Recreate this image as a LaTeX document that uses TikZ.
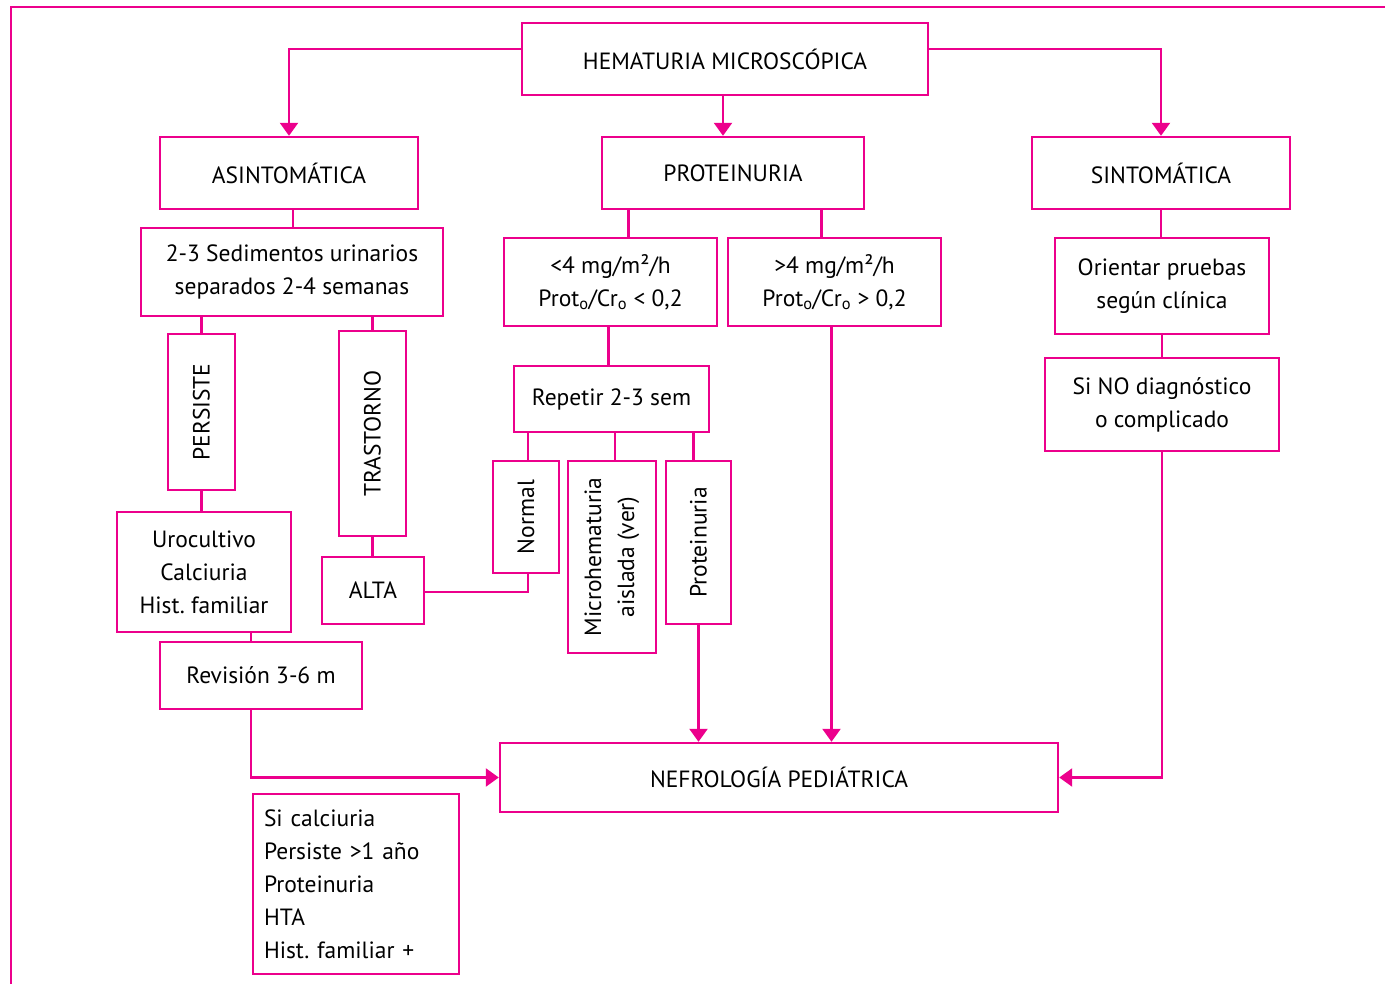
\documentclass[tikz,border=0pt]{standalone}
\usepackage{fontspec}
\setmainfont{PT Sans}
\usetikzlibrary{arrows.meta,calc}
\definecolor{mag}{HTML}{EC008C}
\frenchspacing
\begin{document}
\begin{tikzpicture}[x=1pt,y=-1pt,
 box/.style={draw=mag,line width=2.4pt,inner sep=0pt,align=center,font=\fontsize{23.5}{33}\selectfont},
 vbox/.style={box,rotate=90},
 ln/.style={draw=mag,line width=2.4pt},
 arr/.style={ln,-{Triangle[length=13pt,width=18pt]}}]
\useasboundingbox (0,0) rectangle (1385,984);
\draw[ln] (11,984) -- (11,7) -- (1385,7);
% top level
\node[box,minimum width=406,minimum height=72] (hem) at (725,59) {HEMATURIA MICROSCÓPICA};
\node[box,minimum width=258,minimum height=72] (asint) at (289,173) {ASINTOMÁTICA};
\node[box,minimum width=262,minimum height=72] (prot) at (733,173) {PROTEINURIA};
\node[box,minimum width=258,minimum height=72] (sint) at (1161,173) {SINTOMÁTICA};
% left branch
\node[box,minimum width=302,minimum height=88] (sed) at (292,272) {2-3 Sedimentos urinarios\\separados 2-4 semanas};
\node[vbox,minimum width=156,minimum height=67] (pers) at (201.5,412) {PERSISTE};
\node[vbox,minimum width=205,minimum height=67] (tras) at (372.5,433.5) {TRASTORNO};
\node[box,minimum width=174,minimum height=120] (uro) at (204,572) {Urocultivo\\Calciuria\\Hist. familiar};
\node[box,minimum width=102,minimum height=67] (alta) at (373,590.5) {ALTA};
\node[box,minimum width=202,minimum height=67] (rev) at (261,675.5) {Revisión 3-6 m};
\node[box,minimum width=558,minimum height=69] (nef) at (779,777.5) {NEFROLOGÍA PEDIÁTRICA};
\node[box,text width=184pt,inner xsep=11pt,align=left,minimum height=180] (sic) at (356,884) {Si calciuria\\Persiste >1 año\\Proteinuria\\HTA\\Hist. familiar +};
% middle branch
\node[box,minimum width=213,minimum height=88] (lt4) at (610.5,282) {<4 mg/m²/h\\Prot\textsubscript{o}/Cr\textsubscript{o} < 0,2};
\node[box,minimum width=213,minimum height=88] (gt4) at (834.5,282) {>4 mg/m²/h\\Prot\textsubscript{o}/Cr\textsubscript{o} > 0,2};
\node[box,minimum width=195,minimum height=66] (rep) at (611.5,399) {Repetir 2-3 sem};
\node[vbox,minimum width=112,minimum height=66] (norm) at (526,517) {Normal};
\node[vbox,minimum width=192,minimum height=88] (micro) at (612,557) {Microhematuria\\aislada (ver)};
\node[vbox,minimum width=163,minimum height=65] (protu) at (698.5,542.5) {Proteinuria};
% right branch
\node[box,minimum width=214,minimum height=96] (ori) at (1162,286) {Orientar pruebas\\según clínica};
\node[box,minimum width=234,minimum height=93] (sino) at (1162,404.5) {Si NO diagnóstico\\o complicado};
% connectors
\draw[arr] ([yshift=10pt]hem.west) -| (asint.north);
\draw[arr] ([yshift=10pt]hem.east) -| (sint.north);
\draw[arr] ([xshift=-2pt]hem.south) -- ([xshift=-2pt]hem.south |- prot.north);
\draw[ln] ([xshift=4pt]asint.south) -- ([xshift=4pt]asint.south |- sed.north);
\draw[ln] (pers.east |- sed.south) -- (pers.east);
\draw[ln] (tras.east |- sed.south) -- (tras.east);
\draw[ln] (pers.west) -- (pers.west |- uro.north);
\draw[ln] (tras.west) -- (tras.west |- alta.north);
\draw[ln] ([xshift=-10pt]rev.north) -- ([xshift=-10pt]rev.north |- uro.south);
\draw[arr] ([xshift=-10pt]rev.south) |- (nef.west);
\draw[ln] ([xshift=18pt]lt4.north) -- ([xshift=18pt]lt4.north |- prot.south);
\draw[ln] ([xshift=-13pt]gt4.north) -- ([xshift=-13pt]gt4.north |- prot.south);
\draw[ln] ([xshift=-2pt]lt4.south) -- ([xshift=-2pt]lt4.south |- rep.north);
\draw[arr] ([xshift=-3pt]gt4.south) -- ([xshift=-3pt]gt4.south |- nef.north);
\draw[ln] ([xshift=2pt]norm.east |- rep.south) -- ([xshift=2pt]norm.east);
\draw[ln] ([xshift=3pt]micro.east |- rep.south) -- ([xshift=3pt]micro.east);
\draw[ln] ([xshift=-5pt]protu.east |- rep.south) -- ([xshift=-5pt]protu.east);
\draw[arr] (protu.west) -- (protu.west |- nef.north);
\draw[ln] ([xshift=2pt]norm.west) |- ([yshift=-1.5pt]alta.east);
\draw[ln] (sint.south) -- (sint.south |- ori.north);
\draw[ln] (ori.south) -- (ori.south |- sino.north);
\draw[arr] (sino.south) |- (nef.east);
\end{tikzpicture}
\end{document}
